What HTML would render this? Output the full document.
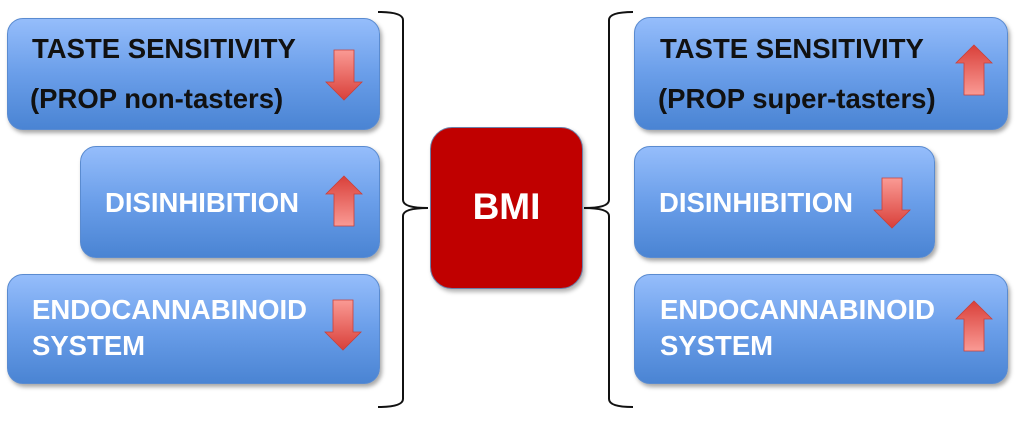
<!DOCTYPE html>
<html><head><meta charset="utf-8"><style>
html,body{margin:0;padding:0;background:#fff;}
body{width:1024px;height:421px;position:relative;overflow:hidden;font-family:"Liberation Sans",Arial,sans-serif;}
.b{position:absolute;border-radius:16px;background:linear-gradient(#95bdfb 0%,#6a9ee9 50%,#4a84d3 100%);border:1px solid #5a8bd0;box-shadow:2px 3px 4px rgba(0,0,0,0.35);box-sizing:border-box;}
.t{position:absolute;font-weight:bold;font-size:27.5px;line-height:42px;white-space:nowrap;}
.w{color:#fff;}
.k{color:#111;}
svg.a{position:absolute;width:36px;height:50px;overflow:visible;}
</style></head><body>
<svg width="1024" height="421" style="position:absolute;left:0;top:0">
<defs>
<linearGradient id="gu" x1="0" y1="0" x2="0" y2="1"><stop offset="0" stop-color="#d9403a"/><stop offset="1" stop-color="#fa9a94"/></linearGradient>
<linearGradient id="gd" x1="0" y1="0" x2="0" y2="1"><stop offset="0" stop-color="#fa9a94"/><stop offset="1" stop-color="#d9403a"/></linearGradient>
</defs>
<path d="M378 12 Q403 12 403 20 L403 200 Q403 208 428 208 Q403 208 403 216 L403 399 Q403 407 378 407" fill="none" stroke="#111" stroke-width="2"/>
<path d="M633 12 Q609 12 609 20 L609 200 Q609 208 584 208 Q609 208 609 216 L609 399 Q609 407 633 407" fill="none" stroke="#111" stroke-width="2"/>
</svg>
<div class="b" style="left:7px;top:18px;width:373px;height:112px"></div>
<div class="b" style="left:80px;top:146px;width:300px;height:112px"></div>
<div class="b" style="left:7px;top:274px;width:373px;height:110px"></div>
<div class="b" style="left:634px;top:17px;width:374px;height:113px"></div>
<div class="b" style="left:634px;top:146px;width:301px;height:112px"></div>
<div class="b" style="left:634px;top:274px;width:374px;height:110px"></div>
<div style="position:absolute;left:430px;top:127px;width:153px;height:162px;border-radius:22px;background:#c00000;border:1px solid #6c7fa8;box-sizing:border-box;box-shadow:2px 3px 4px rgba(0,0,0,0.3)"></div>
<div class="t w" style="left:430px;top:186px;width:153px;text-align:center;font-size:37px">BMI</div>

<div class="t k" style="left:32px;top:28px">TASTE SENSITIVITY</div>
<div class="t k" style="left:30px;top:78px">(PROP non-tasters)</div>
<div class="t w" style="left:105px;top:182px">DISINHIBITION</div>
<div class="t w" style="left:32px;top:292px;line-height:36px">ENDOCANNABINOID<br>SYSTEM</div>

<div class="t k" style="left:660px;top:28px">TASTE SENSITIVITY</div>
<div class="t k" style="left:658px;top:78px">(PROP super-tasters)</div>
<div class="t w" style="left:659px;top:182px">DISINHIBITION</div>
<div class="t w" style="left:660px;top:292px;line-height:36px">ENDOCANNABINOID<br>SYSTEM</div>

<svg class="a" style="left:326px;top:50px" viewBox="0 0 36 50"><path d="M8 0H28V32H36L18 50L0 32H8Z" fill="url(#gd)" stroke="#c9403a" stroke-width="0.8"/></svg>
<svg class="a" style="left:326px;top:176px" viewBox="0 0 36 50"><path d="M18 0L36 18H28V50H8V18H0Z" fill="url(#gu)" stroke="#c9403a" stroke-width="0.8"/></svg>
<svg class="a" style="left:325px;top:300px" viewBox="0 0 36 50"><path d="M8 0H28V32H36L18 50L0 32H8Z" fill="url(#gd)" stroke="#c9403a" stroke-width="0.8"/></svg>
<svg class="a" style="left:956px;top:45px" viewBox="0 0 36 50"><path d="M18 0L36 18H28V50H8V18H0Z" fill="url(#gu)" stroke="#c9403a" stroke-width="0.8"/></svg>
<svg class="a" style="left:874px;top:178px" viewBox="0 0 36 50"><path d="M8 0H28V32H36L18 50L0 32H8Z" fill="url(#gd)" stroke="#c9403a" stroke-width="0.8"/></svg>
<svg class="a" style="left:956px;top:301px" viewBox="0 0 36 50"><path d="M18 0L36 18H28V50H8V18H0Z" fill="url(#gu)" stroke="#c9403a" stroke-width="0.8"/></svg>
</body></html>
